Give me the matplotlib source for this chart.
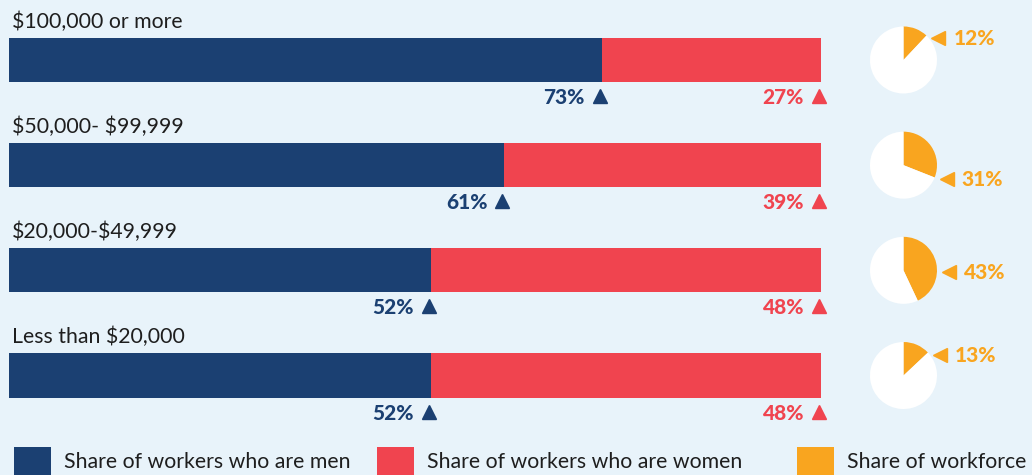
import matplotlib
matplotlib.use("Agg")
import matplotlib.pyplot as plt
from matplotlib import transforms
from matplotlib.patches import Rectangle
import numpy as np

# Income brackets, top to bottom
brackets = ["$100,000 or more", "$50,000- $99,999", "$20,000-$49,999", "Less than $20,000"]
men_share = [73, 61, 52, 52]
women_share = [27, 39, 48, 48]
workforce_share = [12, 31, 43, 13]

legend_labels = ["Share of workers who are men", "Share of workers who are women", "Share of workforce"]

NAVY = "#1B4072"
RED = "#F0444F"
ORANGE = "#F9A51F"
BG = "#E8F3FA"
TEXT = "#1E1E1E"

plt.rcParams["font.family"] = ["Lato", "DejaVu Sans"]

W, H = 1032, 475
fig = plt.figure(figsize=(W / 100, H / 100), dpi=100, facecolor=BG)


def px_box(left, top, width, height):
    # pixel box (origin top-left) -> figure fraction rect
    return [left / W, (H - top - height) / H, width / W, height / H]


def shift(trans, dx, dy):
    return transforms.offset_copy(trans, fig=fig, x=dx, y=dy, units="dots")


# stacked bars
ax = fig.add_axes(px_box(9, 7.4, 812, 420.7))
ax.set_facecolor("none")
y = np.arange(len(brackets))
ax.barh(y, men_share, height=0.42, color=NAVY, linewidth=0)
ax.barh(y, women_share, left=men_share, height=0.42, color=RED, linewidth=0)
ax.set_xlim(0, 100)
ax.set_ylim(len(brackets) - 0.5, -0.5)
ax.axis("off")

for i, name in enumerate(brackets):
    ax.text(0, i, name, transform=shift(ax.transData, 3, 32), ha="left", va="baseline",
            fontsize=15.3, color=TEXT, parse_math=False)

    ends = [(men_share[i], men_share[i], NAVY), (men_share[i] + women_share[i], women_share[i], RED)]
    for xpos, val, col in ends:
        ax.plot([xpos], [i], marker="^", markersize=10, color=col, linestyle="none",
                transform=shift(ax.transData, -2, -36), clip_on=False)
        ax.text(xpos, i, f"{val}%", transform=shift(ax.transData, -17, -44), ha="right",
                va="baseline", fontsize=15, fontweight="black", color=col)

# workforce pies, one per row
fig.canvas.draw()
inv = fig.transFigure.inverted()
for i, share in enumerate(workforce_share):
    _, cy = ax.transData.transform((0, i))
    cx = 903.5
    r = 33.5
    x0, y0 = inv.transform((cx - r, cy - r))
    pax = fig.add_axes([x0, y0, 2 * r / W, 2 * r / H])
    pax.pie([share, 100 - share], colors=[ORANGE, "white"], startangle=90, counterclock=False,
            radius=1, wedgeprops=dict(linewidth=0))
    pax.set_xlim(-1, 1)
    pax.set_ylim(-1, 1)
    pax.axis("off")

    end_deg = share * 3.6
    ang = np.deg2rad(end_deg if end_deg <= 120 else 90)
    ax_, ay_ = np.sin(ang), np.cos(ang)
    pax.plot([ax_], [ay_], marker="<", markersize=10.5, color=ORANGE, linestyle="none",
             transform=shift(pax.transData, 12, -2), clip_on=False)
    pax.text(ax_, ay_, f"{share}%", transform=shift(pax.transData, 27, -9), ha="left",
             va="baseline", fontsize=15, fontweight="black", color=ORANGE, clip_on=False)

# legend along the bottom
lax = fig.add_axes([0, 0, 1, 1])
lax.set_xlim(0, W)
lax.set_ylim(H, 0)
lax.axis("off")
lax.set_zorder(-1)
swatches = [(14, NAVY, 64), (377, RED, 427), (797, ORANGE, 847)]
for (sx, col, tx), label in zip(swatches, legend_labels):
    lax.add_patch(Rectangle((sx, 447), 37, 30, color=col, linewidth=0))
    lax.text(tx, 468, label, ha="left", va="baseline", fontsize=15.3, color=TEXT)

fig.savefig("out.png", dpi=100, facecolor=BG)
